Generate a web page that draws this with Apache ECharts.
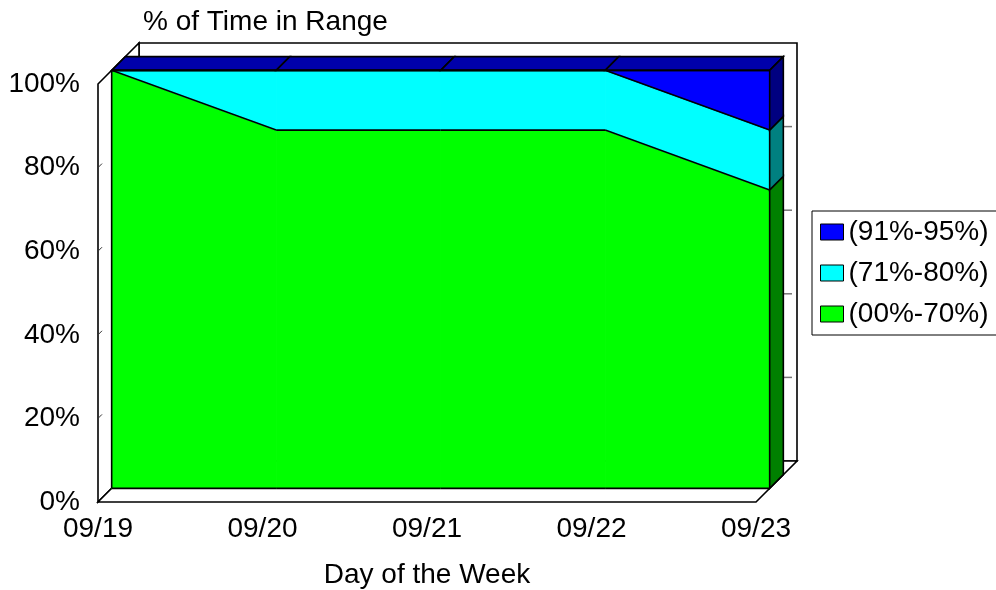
<!DOCTYPE html>
<html><head><meta charset="utf-8">
<script src="https://cdn.jsdelivr.net/npm/echarts@6/dist/echarts.min.js"></script>
<style>html,body{margin:0;padding:0;background:#fff}#chart{width:996px;height:590px}</style>
</head><body><div id="chart"></div>
<script>
// ---- data ----
const categories = ['09/19', '09/20', '09/21', '09/22', '09/23'];
const lowRange  = [100, 85.7, 85.7, 85.7, 71.4];   // (00%-70%)
const midRange  = [0, 14.3, 14.3, 14.3, 14.3];     // (71%-80%)
const highRange = [0, 0, 0, 0, 14.3];              // (91%-95%)
const yTickValues = [0, 20, 40, 60, 80, 100];
const seriesNames = ['(00%-70%)', '(71%-80%)', '(91%-95%)'];
const legendOrder = ['(91%-95%)', '(71%-80%)', '(00%-70%)'];
const titleText = '% of Time in Range';
const xAxisTitle = 'Day of the Week';

// ---- styles ----
const FONT = '"Liberation Sans", Arial, Helvetica, sans-serif';
const FS = 28;
const WALL = 41, D = WALL / 3;
const frontColors = ['#00FF00', '#00FFFF', '#0000FF'];
const topColors   = ['#00AA00', '#00AAAA', '#0000AA'];
const sideColors  = ['#008000', '#008080', '#000080'];

const layers = [lowRange, midRange, highRange];
const bounds = [];
let base = categories.map(() => 0);
layers.forEach(arr => {
  const top = base.map((b, i) => b + arr[i]);
  bounds.push({ lo: base, hi: top });
  base = top;
});

function segData(k) {
  const out = [];
  for (let i = 0; i < categories.length - 1; i++) {
    out.push([i, bounds[k].lo[i], bounds[k].hi[i], bounds[k].lo[i + 1], bounds[k].hi[i + 1]]);
  }
  return out;
}

const sh = p => [p[0] + D, p[1] - D];
const bk = p => [p[0] + 2 * D, p[1] - 2 * D];

function makeLayer(k) {
  const isTop = k === layers.length - 1;
  const last = categories.length - 1;
  return function (params, api) {
    const i = api.value(0);
    const aLo = api.coord([i, api.value(1)]), aHi = api.coord([i, api.value(2)]);
    const bLo = api.coord([i + 1, api.value(3)]), bHi = api.coord([i + 1, api.value(4)]);
    const ch = [];
    ch.push({ type: 'polygon', z2: 0, shape: { points: [sh(aLo), sh(aHi), sh(bHi), sh(bLo)] },
      style: { fill: frontColors[k], stroke: frontColors[k], lineWidth: 1 } });
    ch.push({ type: 'polyline', z2: 10, shape: { points: [sh(aHi), sh(bHi)] },
      style: { stroke: '#000', lineWidth: 1.6, fill: null } });
    if (k === 0) {
      ch.push({ type: 'polyline', z2: 10, shape: { points: [sh(aLo), sh(bLo)] },
        style: { stroke: '#000', lineWidth: 1.6, fill: null } });
    }
    if (i === 0 && k === 0) {
      const top0 = api.coord([0, bounds[layers.length - 1].hi[0]]);
      ch.push({ type: 'polyline', z2: 10, shape: { points: [sh(aLo), sh(top0)] },
        style: { stroke: '#000', lineWidth: 1.6, fill: null } });
    }
    if (isTop) {
      ch.push({ type: 'polygon', z2: 5, shape: { points: [sh(aHi), sh(bHi), bk(bHi), bk(aHi)] },
        style: { fill: topColors[k], stroke: '#000', lineWidth: 1.6 } });
    }
    if (i + 1 === last) {
      ch.push({ type: 'polygon', z2: 5, shape: { points: [sh(bLo), sh(bHi), bk(bHi), bk(bLo)] },
        style: { fill: sideColors[k], stroke: '#000', lineWidth: 1.6 } });
    }
    return { type: 'group', children: ch };
  };
}

function renderFrame(params, api) {
  const last = categories.length - 1;
  const p00 = api.coord([0, 0]), p10 = api.coord([last, 0]);
  const p01 = api.coord([0, 100]);
  const x0 = p00[0], x1 = p10[0], yb = p00[1], yt = p01[1];
  const lw = { stroke: '#000', lineWidth: 1.6 };
  const ch = [];
  ch.push({ type: 'polygon', shape: { points: [[x0 + WALL, yt - WALL], [x1 + WALL, yt - WALL], [x1 + WALL, yb - WALL], [x0 + WALL, yb - WALL]] },
    style: Object.assign({ fill: '#fff' }, lw) });
  ch.push({ type: 'polygon', shape: { points: [[x0, yb], [x0, yt], [x0 + WALL, yt - WALL], [x0 + WALL, yb - WALL]] },
    style: Object.assign({ fill: '#fff' }, lw) });
  ch.push({ type: 'polygon', shape: { points: [[x0, yb], [x1, yb], [x1 + WALL, yb - WALL], [x0 + WALL, yb - WALL]] },
    style: Object.assign({ fill: '#fff' }, lw) });
  yTickValues.forEach(v => {
    if (v <= 0 || v >= 100) return;
    const p = api.coord([0, v]);
    ch.push({ type: 'line', shape: { x1: x0, y1: p[1], x2: x0 + 4, y2: p[1] - 4 },
      style: { stroke: '#333', lineWidth: 1 } });
    ch.push({ type: 'line', shape: { x1: x1 + WALL - 13, y1: p[1] - WALL, x2: x1 + WALL - 5, y2: p[1] - WALL },
      style: { stroke: '#777', lineWidth: 1.5 } });
  });
  return { type: 'group', children: ch };
}

const chart = echarts.init(document.getElementById('chart'), null, { renderer: 'canvas' });
const series = [{
  type: 'custom', name: '__frame', z: 1, silent: true, clip: false,
  data: [[0, 0]], encode: { x: 0, y: 1 }, renderItem: renderFrame
}];
layers.forEach((arr, k) => {
  series.push({
    type: 'custom', name: seriesNames[k], z: 2, clip: false,
    itemStyle: { color: frontColors[k] },
    data: segData(k), encode: { x: 0, y: [1, 2, 3, 4] },
    renderItem: makeLayer(k)
  });
});

chart.setOption({
  animation: false,
  backgroundColor: '#fff',
  textStyle: { fontFamily: FONT },
  title: {
    text: titleText, left: 138, top: 3,
    textStyle: { fontSize: FS, fontWeight: 'normal', color: '#000', fontFamily: FONT }
  },
  legend: {
    data: legendOrder, orient: 'vertical', left: 812, top: 211,
    itemWidth: 23, itemHeight: 16, itemGap: 13,
    padding: [7, 40, 7, 8],
    borderColor: '#000', borderWidth: 1, backgroundColor: '#fff',
    icon: 'rect', itemStyle: { borderColor: '#000', borderWidth: 1 },
    textStyle: { fontSize: FS, color: '#000', fontFamily: FONT }
  },
  grid: { left: 98, right: 240, top: 84, bottom: 88, containLabel: false, outerBoundsMode: 'none' },
  xAxis: {
    type: 'category', data: categories, boundaryGap: false,
    axisLine: { show: false }, axisTick: { show: false }, splitLine: { show: false },
    axisLabel: { fontSize: FS, color: '#000', margin: 13, fontFamily: FONT },
    name: xAxisTitle, nameLocation: 'middle', nameGap: 59,
    nameTextStyle: { fontSize: FS, color: '#000', fontFamily: FONT }
  },
  yAxis: {
    type: 'value', min: 0, max: 100, interval: 20,
    axisLine: { show: false }, axisTick: { show: false }, splitLine: { show: false },
    axisLabel: { formatter: '{value}%', fontSize: FS, color: '#000', margin: 18, fontFamily: FONT,
      padding: [4, 0, 0, 0] }
  },
  series: series
});
</script>
</body></html>
